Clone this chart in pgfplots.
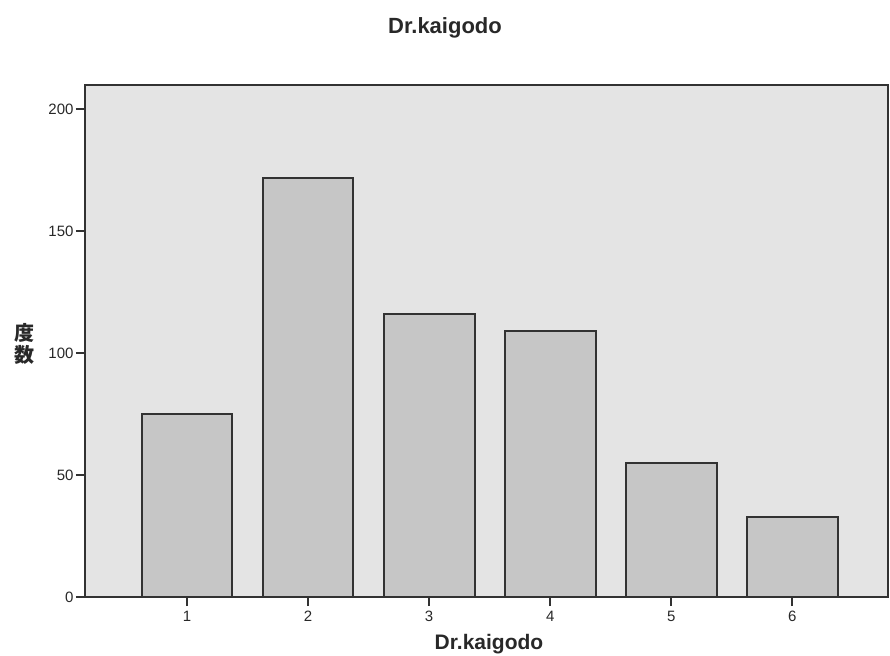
\documentclass[border=0pt]{standalone}
\usepackage{fontspec}
\setmainfont{Liberation Sans}
\newfontfamily\cjk{Noto Sans CJK JP}
\usepackage{pgfplots}
\pgfplotsset{compat=1.18}
\definecolor{plotbg}{RGB}{228,228,228}
\definecolor{barfill}{RGB}{198,198,198}
\definecolor{linec}{RGB}{50,50,50}
\definecolor{textc}{RGB}{40,40,40}
\begin{document}
\begin{tikzpicture}
\path[use as bounding box] (0,0) rectangle (890pt,655pt);
\begin{axis}[
  at={(85pt,58pt)}, anchor=south west,
  scale only axis, width=803pt, height=512pt,
  xmin=0.158, xmax=6.79, ymin=0, ymax=210,
  axis background/.style={fill=plotbg},
  axis line style={linec, line width=1.8pt},
  xtick={1,2,3,4,5,6}, ytick={0,50,100,150,200},
  tick align=outside, major tick length=9pt,
  tick style={linec, line width=1.8pt},
  xtick pos=bottom, ytick pos=left,
  /pgf/number format/assume math mode=true,
  ticklabel style={font=\fontsize{15}{15}\selectfont, text=textc},
  xticklabel style={text height=11pt, text depth=0pt, anchor=north, yshift=-1pt},
  yticklabel style={xshift=1pt},
  ybar, bar width=0.75,
]
\addplot[fill=barfill, draw=linec, line width=2pt] coordinates {
(1,75) (2,172) (3,116) (4,109) (5,55) (6,33)};
\end{axis}
\node[font=\fontsize{22}{22}\selectfont\bfseries, text=textc] at (445pt,627pt) {Dr.kaigodo};
\node[font=\fontsize{21}{21}\selectfont\bfseries, text=textc] at (489pt,11pt) {Dr.kaigodo};
\node[font=\cjk\fontsize{20}{22}\selectfont\bfseries, text=textc, align=center, inner sep=0pt] at (24pt,311pt) {度\\数};
\end{tikzpicture}
\end{document}
